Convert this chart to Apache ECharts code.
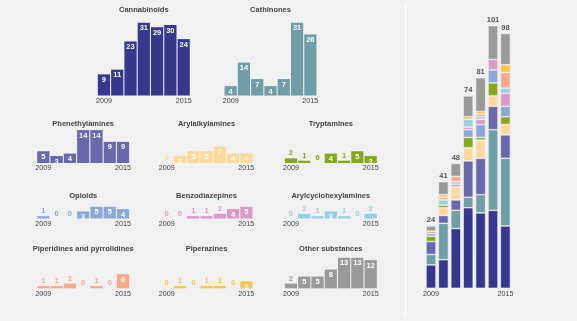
<!DOCTYPE html>
<html>
<head>
<meta charset="utf-8">
<script src="https://cdn.jsdelivr.net/npm/echarts@6/dist/echarts.min.js"></script>
<style>
  html, body { margin: 0; padding: 0; background: #f1f1f1; }
  #chart { width: 577px; height: 321px; }
</style>
</head>
<body>
<div id="chart"></div>
<script>
// New psychoactive substances reported per year, by group
const years = ['2009', '2010', '2011', '2012', '2013', '2014', '2015'];

const cannabinoids        = [9, 11, 23, 31, 29, 30, 24];
const cathinones          = [4, 14, 7, 4, 7, 31, 26];
const phenethylamines     = [5, 3, 4, 14, 14, 9, 9];
const arylalkylamines     = [0, 3, 5, 5, 7, 4, 4];
const tryptamines         = [2, 1, 0, 4, 1, 5, 3];
const opioids             = [1, 0, 0, 3, 5, 5, 4];
const benzodiazepines     = [0, 0, 1, 1, 2, 4, 5];
const arylcyclohexylamines= [0, 2, 1, 3, 1, 0, 2];
const piperidines         = [1, 1, 2, 0, 1, 0, 6];
const piperazines         = [0, 1, 0, 1, 1, 0, 3];
const otherSubstances     = [2, 5, 5, 8, 13, 13, 12];

// Groups in stacking order (bottom to top)
const groups = [
  { name: 'Cannabinoids',                 values: cannabinoids,         color: '#35388c' },
  { name: 'Cathinones',                   values: cathinones,           color: '#6f9da8' },
  { name: 'Phenethylamines',              values: phenethylamines,      color: '#6a67ac' },
  { name: 'Arylalkylamines',              values: arylalkylamines,      color: '#fdda9b' },
  { name: 'Tryptamines',                  values: tryptamines,          color: '#87a81b' },
  { name: 'Opioids',                      values: opioids,              color: '#8da7d7' },
  { name: 'Benzodiazepines',              values: benzodiazepines,      color: '#db9ac6' },
  { name: 'Arylcyclohexylamines',         values: arylcyclohexylamines, color: '#95d1e1' },
  { name: 'Piperidines and pyrrolidines', values: piperidines,          color: '#f9a98b' },
  { name: 'Piperazines',                  values: piperazines,          color: '#fcc449' },
  { name: 'Other substances',             values: otherSubstances,      color: '#9a9a9a' }
];

// Small-multiple panel placement: left edge of bars and baseline y
const COLS = [36.7, 160, 284.3];
const panelPlacement = [
  { left: 97.3,    base: 95.5 },   // Cannabinoids
  { left: 224,     base: 95.5 },   // Cathinones
  { left: COLS[0], base: 163 },    // Phenethylamines
  { left: COLS[1], base: 163 },    // Arylalkylamines
  { left: COLS[2], base: 163 },    // Tryptamines
  { left: COLS[0], base: 218.5 },  // Opioids
  { left: COLS[1], base: 218.5 },  // Benzodiazepines
  { left: COLS[2], base: 218.5 },  // Arylcyclohexylamines
  { left: COLS[0], base: 288.3 },  // Piperidines and pyrrolidines
  { left: COLS[1], base: 288.3 },  // Piperazines
  { left: COLS[2], base: 288.3 }   // Other substances
];
const PANEL_W = 93;
const PANEL_MAX = 32;
const PX_PER_UNIT = 2.35;
const PANEL_H = PANEL_MAX * PX_PER_UNIT;
const TITLE_GAP = { 95.5: 85.5, 163: 39, 218.5: 22.5, 288.3: 39.3 };

const FONT = '"Liberation Sans", Arial, sans-serif';
const TEXT_COLOR = '#444';

const grids = [], xAxes = [], yAxes = [], series = [], graphics = [];

const yearLabel = {
  show: true,
  interval: (i) => i === 0 || i === years.length - 1,
  fontSize: 7.2,
  fontFamily: FONT,
  color: TEXT_COLOR,
  margin: 2
};

groups.forEach((g, i) => {
  const p = panelPlacement[i];
  grids.push({ left: p.left, top: p.base - PANEL_H, width: PANEL_W, height: PANEL_H });
  xAxes.push({
    type: 'category', gridIndex: i, data: years,
    axisLine: { show: false }, axisTick: { show: false },
    axisLabel: yearLabel
  });
  yAxes.push({ type: 'value', gridIndex: i, min: 0, max: PANEL_MAX, show: false });
  series.push({
    type: 'bar', xAxisIndex: i, yAxisIndex: i,
    barCategoryGap: '8%',
    itemStyle: { color: g.color },
    data: g.values.map(v => ({
      value: v,
      label: v >= 3
        ? { position: 'insideTop', distance: 1.5, color: '#fff' }
        : { position: 'top', distance: 1, color: g.color }
    })),
    label: {
      show: true, fontSize: 7.5, fontWeight: 'bold', fontFamily: FONT
    },
    silent: true
  });
  graphics.push({
    type: 'text',
    x: p.left + PANEL_W / 2,
    y: p.base - TITLE_GAP[p.base],
    style: {
      text: g.name, fill: TEXT_COLOR, font: 'bold 7.5px ' + FONT,
      textAlign: 'center', textVerticalAlign: 'middle'
    },
    silent: true
  });
});

// Stacked totals panel
const totals = years.map((_, k) => groups.reduce((s, g) => s + g.values[k], 0));
const S = groups.length;
grids.push({ left: 424.8, top: 25.7, width: 86.8, height: 262.6 });
xAxes.push({
  type: 'category', gridIndex: S, data: years,
  axisLine: { show: false }, axisTick: { show: false },
  axisLabel: yearLabel
});
yAxes.push({ type: 'value', gridIndex: S, min: 0, max: 101, show: false });
groups.forEach((g, i) => {
  series.push({
    type: 'bar', xAxisIndex: S, yAxisIndex: S, stack: 'total',
    barWidth: 10,
    itemStyle: { color: g.color, borderColor: '#f4f4f4', borderWidth: 0.6 },
    data: g.values.map(v => (v === 0 ? '-' : v)),
    label: i === groups.length - 1 ? {
      show: true, position: 'top', distance: 1.5,
      formatter: (d) => String(totals[d.dataIndex]),
      fontSize: 7.5, fontWeight: 'bold', fontFamily: FONT, color: '#555'
    } : { show: false },
    silent: true
  });
});

// Divider between the small multiples and the totals column
graphics.push({
  type: 'line', shape: { x1: 405.5, y1: 4, x2: 405.5, y2: 317 },
  style: { stroke: '#ffffff', lineWidth: 1 }, silent: true
});

const chart = echarts.init(document.getElementById('chart'), null, { renderer: 'canvas' });
chart.setOption({
  backgroundColor: '#f1f1f1',
  animation: false,
  grid: grids,
  xAxis: xAxes,
  yAxis: yAxes,
  series: series,
  graphic: graphics
});
</script>
</body>
</html>
